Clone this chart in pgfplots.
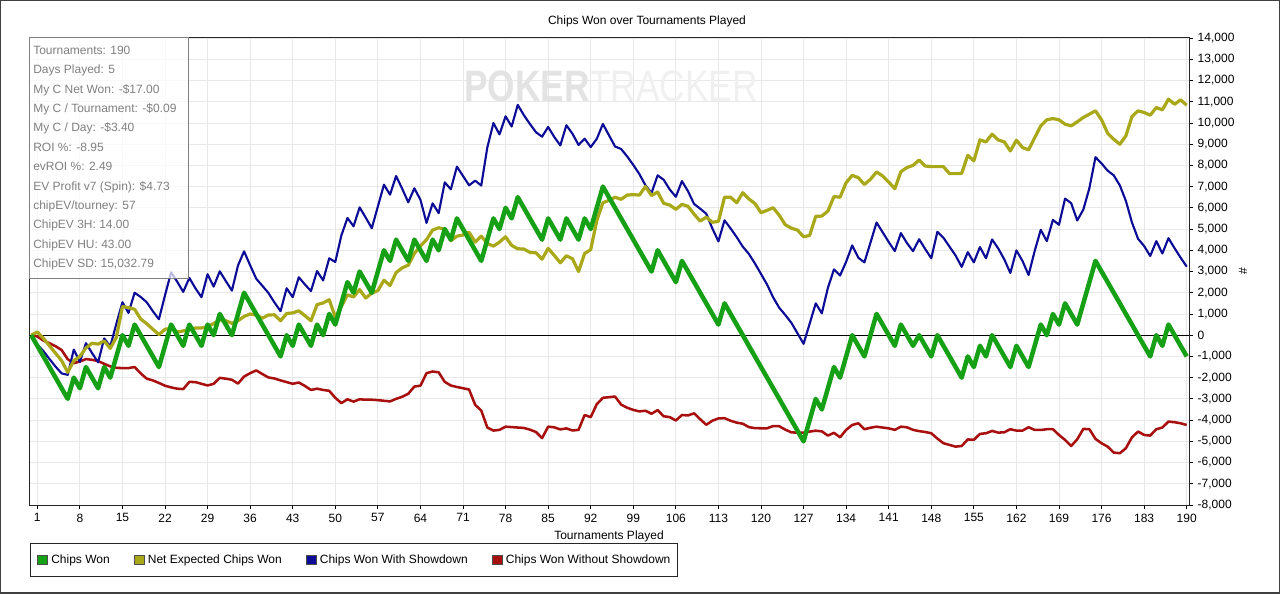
\documentclass[border=0pt]{standalone}
\usepackage{fontspec}
\setmainfont{Liberation Sans}
\usepackage{graphicx}
\usepackage{pgfplots}
\usepackage{pgfplotstable}
\pgfplotsset{compat=1.18}
\definecolor{cgreen}{RGB}{22,160,22}
\definecolor{cyellow}{RGB}{168,168,24}
\definecolor{cblue}{RGB}{12,12,150}
\definecolor{cred}{RGB}{168,16,16}
\definecolor{gridc}{RGB}{232,232,232}

\pgfplotstableread{
t g e b r
0 0 0 0 0
1 -500 150 -440 -60
2 -1000 -150 -750 -250
3 -1500 -500 -1120 -380
4 -2000 -850 -1480 -520
5 -2500 -1200 -1800 -700
6 -3000 -1750 -1870 -1130
7 -2000 -1200 -680 -1320
8 -2500 -1000 -1260 -1240
9 -1500 -600 -375 -1125
10 -2000 -380 -840 -1160
11 -2500 -420 -1280 -1220
12 -1500 -270 -150 -1350
13 -2000 -620 -530 -1470
14 -1000 -100 540 -1540
15 0 1350 1550 -1550
16 -500 1300 1050 -1550
17 500 1220 2000 -1500
18 0 760 1800 -1800
19 -500 540 1550 -2050
20 -1000 280 1130 -2130
21 -1500 30 750 -2250
22 -500 280 1880 -2380
23 500 320 2960 -2460
24 0 150 2520 -2520
25 -500 200 2040 -2540
26 500 280 2700 -2200
27 0 340 2210 -2210
28 -500 340 1790 -2290
29 500 400 2870 -2370
30 0 550 2290 -2290
31 1000 720 3010 -2010
32 500 680 2550 -2050
33 0 560 2100 -2100
34 1000 680 3280 -2280
35 2000 880 3950 -1950
36 1500 1000 3290 -1790
37 1000 950 2660 -1660
38 500 800 2330 -1830
39 0 950 1990 -1990
40 -500 960 1540 -2040
41 -1000 680 1130 -2130
42 0 1020 2210 -2210
43 -500 1050 1790 -2290
44 500 1150 2730 -2230
45 0 920 2390 -2390
46 -500 680 2080 -2580
47 500 1440 3020 -2520
48 0 1520 2580 -2580
49 1000 1670 3620 -2620
50 500 850 3450 -2950
51 1500 1350 4700 -3200
52 2500 1900 5520 -3020
53 2000 1800 5130 -3130
54 3000 2150 6020 -3020
55 2500 1750 5540 -3040
56 2000 1980 5040 -3040
57 3000 2100 6060 -3060
58 4000 2590 7090 -3090
59 3500 2340 6620 -3120
60 4500 2950 7500 -3000
61 4000 3170 6900 -2900
62 3500 3300 6260 -2760
63 4500 3850 6920 -2420
64 4000 4200 6380 -2380
65 3500 4500 5290 -1790
66 4500 4950 6210 -1710
67 4000 5060 5750 -1750
68 5000 5000 7200 -2200
69 4500 4450 6870 -2370
70 5500 4665 7940 -2440
71 5000 4720 7500 -2500
72 4500 4850 7060 -2560
73 4000 4385 7280 -3280
74 3500 4665 7050 -3550
75 4500 4320 8850 -4350
76 5500 4195 9995 -4495
77 5000 4385 9460 -4460
78 6000 4635 10310 -4310
79 5500 4230 9830 -4330
80 6500 4070 10850 -4350
81 6000 4060 10370 -4370
82 5500 3900 9950 -4450
83 5000 3880 9560 -4560
84 4500 3580 9350 -4850
85 5500 4090 9810 -4310
86 5000 3760 9340 -4340
87 4500 3410 8940 -4440
88 5500 3740 9890 -4390
89 5000 3600 9490 -4490
90 4500 3000 8960 -4460
91 5500 3850 9260 -3760
92 5000 4030 8860 -3860
93 6000 5400 9250 -3250
94 7000 6240 9950 -2950
95 6500 6350 9420 -2920
96 6000 6500 8890 -2890
97 5500 6400 8770 -3270
98 5000 6600 8420 -3420
99 4500 6620 8020 -3520
100 4000 6600 7590 -3590
101 3500 7000 7060 -3560
102 3000 6580 6700 -3700
103 4000 6745 7530 -3530
104 3500 6210 7320 -3820
105 3000 6130 6860 -3860
106 2500 5930 6520 -4020
107 3500 6165 7260 -3760
108 3000 6070 6780 -3780
109 2500 5700 6180 -3680
110 2000 5375 5960 -3960
111 1500 5560 5720 -4220
112 1000 5320 5030 -4030
113 500 5360 4420 -3920
114 1500 6500 5410 -3910
115 1000 6500 5030 -4030
116 500 6240 4620 -4120
117 0 6710 4170 -4170
118 -500 6420 3830 -4330
119 -1000 6200 3380 -4380
120 -1500 5770 2885 -4385
121 -2000 5880 2385 -4385
122 -2500 6005 1780 -4280
123 -3000 5650 1290 -4290
124 -3500 5200 950 -4450
125 -4000 5040 580 -4580
126 -4500 4950 90 -4590
127 -5000 4635 -410 -4590
128 -4000 4700 540 -4540
129 -3000 5600 1500 -4500
130 -3500 5610 1030 -4530
131 -2500 5850 2230 -4730
132 -1500 6530 3100 -4600
133 -2000 6500 2810 -4810
134 -1000 7185 3460 -4460
135 0 7530 4230 -4230
136 -500 7420 3650 -4150
137 -1000 7100 3430 -4430
138 0 7345 4360 -4360
139 1000 7690 5310 -4310
140 500 7500 4850 -4350
141 0 7215 4390 -4390
142 -500 6900 3960 -4460
143 500 7700 4810 -4310
144 0 7900 4340 -4340
145 -500 8000 3960 -4460
146 0 8255 4520 -4520
147 -500 7970 4060 -4560
148 -1000 7940 3620 -4620
149 0 7940 4870 -4870
150 -500 7940 4590 -5090
151 -1000 7610 4170 -5170
152 -1500 7610 3750 -5250
153 -2000 7625 3220 -5220
154 -1000 8475 3910 -4910
155 -1500 8210 3430 -4930
156 -500 9200 4150 -4650
157 -1000 9105 3620 -4620
158 0 9470 4510 -4510
159 -500 9200 4090 -4590
160 -1000 9105 3575 -4575
161 -1500 8680 2930 -4430
162 -500 9185 3995 -4495
163 -1000 8840 3495 -4495
164 -1500 8730 2835 -4335
165 -500 9300 3965 -4465
166 500 9860 4965 -4465
167 0 10145 4430 -4430
168 1000 10205 5430 -4430
169 500 10145 5200 -4700
170 1500 9940 6435 -4935
171 1000 9860 6220 -5220
172 500 10050 5405 -4905
173 1500 10255 5915 -4415
174 2500 10410 6930 -4430
175 3500 10570 8385 -4885
176 3000 10145 8090 -5090
177 2500 9515 7750 -5250
178 2000 9230 7530 -5530
179 1500 8995 7060 -5560
180 1000 9390 6325 -5325
181 500 10300 5310 -4810
182 0 10570 4540 -4540
183 -500 10490 4200 -4700
184 -1000 10365 3730 -4730
185 0 10725 4430 -4430
186 -500 10615 3850 -4350
187 500 11120 4570 -4070
188 0 10880 4100 -4100
189 -500 11085 3650 -4150
190 -1000 10835 3230 -4230
}\chipdata

\begin{document}
\begin{tikzpicture}
\path[use as bounding box] (0,0) rectangle (960pt,444.75pt);
\draw[black!75, line width=1.5pt] (0,0) rectangle (960pt,444.75pt);
\node[font=\fontsize{9}{11}\selectfont] at (485.25pt,428.5pt) {Chips Won over Tournaments Played};
\begin{axis}[
  at={(21.75pt,66pt)}, anchor=south west,
  scale only axis, width=870pt, height=350.25pt,
  xmin=-0.365, xmax=190.38, ymin=-8000, ymax=14000,
  xtick={1,8,...,190}, ytick={-8000,-7000,...,14000},
  scaled y ticks=false, scaled x ticks=false,
  xtick pos=bottom, ytick pos=right, yticklabel pos=right,
  tick align=outside, major tick length=3pt,
  tick style={black, line width=0.6pt},
  grid=major, major grid style={gridc, line width=0.6pt},
  axis line style={black!85, line width=0.75pt},
  ticklabel style={font=\fontsize{9}{11}\selectfont},
  /pgf/number format/.cd, 1000 sep={,}, assume math mode=true, /pgfplots/.cd,
  extra y ticks={0}, extra y tick labels={},
  extra y tick style={grid=major, major grid style={black, line width=0.75pt}, major tick length=0pt},
  xlabel={Tournaments Played},
  xlabel style={at={(axis description cs:0.5,-0.0664)}, anchor=center, font=\fontsize{9}{11}\selectfont},
  ylabel={\#},
  ylabel style={at={(axis description cs:1.0466,0.5)}, anchor=center, font=\fontsize{9}{11}\selectfont},
  legend columns=4,
  legend style={at={(axis description cs:0.00086,-0.0814)}, anchor=north west,
    draw=black!85, line width=0.75pt, font=\fontsize{9}{11}\selectfont,
    inner xsep=5pt, inner ysep=8.3pt,
    nodes={inner sep=0pt},
    /tikz/every odd column/.append style={column sep=2.5pt},
    /tikz/every even column/.append style={column sep=18pt}},
  legend image code/.code={\draw[#1, line width=0.6pt] (0pt,-3.6pt) rectangle (7.5pt,3.6pt);},
]
\addlegendimage{fill=cgreen, draw=black!70}
\addlegendentry{Chips Won}
\addlegendimage{fill=cyellow, draw=black!70}
\addlegendentry{Net Expected Chips Won}
\addlegendimage{fill=cblue, draw=black!70}
\addlegendentry{Chips Won With Showdown}
\addlegendimage{fill=cred, draw=black!70}
\addlegendentry{Chips Won Without Showdown}

\node[inner sep=0pt] at (rel axis cs:0.5017,0.897) {\scalebox{0.8}[1]{\fontsize{33}{33}\selectfont{\bfseries\color{black!11}POKER}{\color{black!6}TRACKER}}};

\addplot[cred, line width=1.9pt, line join=round, forget plot] table[x=t,y=r] {\chipdata};
\addplot[cblue, line width=1.6pt, line join=round, forget plot] table[x=t,y=b] {\chipdata};
\addplot[cyellow, line width=2.4pt, line join=round, forget plot] table[x=t,y=e] {\chipdata};
\addplot[cgreen, line width=3.4pt, line join=round, forget plot] table[x=t,y=g] {\chipdata};

\draw[black!50, line width=0.75pt, fill=white, fill opacity=0.72] (rel axis cs:0,1) rectangle ([xshift=119.25pt, yshift=-180pt]rel axis cs:0,1);
\node[anchor=north west, align=left, inner sep=0pt, text=black!50, font=\fontsize{9}{14.55}\selectfont] at ([xshift=3pt,yshift=-5.8pt]rel axis cs:0,1)
{Tournaments: 190\\ Days Played: 5\\ My C Net Won: -\$17.00\\ My C / Tournament: -\$0.09\\ My C / Day: -\$3.40\\ ROI \%: -8.95\\ evROI \%: 2.49\\ EV Profit v7 (Spin): \$4.73\\ chipEV/tourney: 57\\ ChipEV 3H: 14.00\\ ChipEV HU: 43.00\\ ChipEV SD: 15,032.79};
\end{axis}
\end{tikzpicture}
\end{document}
